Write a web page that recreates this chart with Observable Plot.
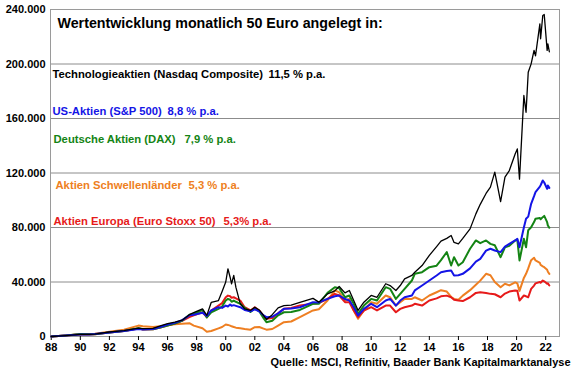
<!DOCTYPE html>
<html>
<head>
<meta charset="utf-8">
<script src="https://cdn.jsdelivr.net/npm/d3@7"></script>
<script src="https://cdn.jsdelivr.net/npm/@observablehq/plot@0.6"></script>
<style>
  html, body { margin: 0; padding: 0; background: #fff; }
  #chart { width: 580px; height: 375px; }
</style>
</head>
<body>
<div id="chart"></div>
<script>
const title = "Wertentwicklung monatlich 50 Euro angelegt in:";
const caption = "Quelle: MSCI, Refinitiv, Baader Bank Kapitalmarktanalyse";
const seriesNames = ["Technologieaktien (Nasdaq Composite)", "US-Aktien (S&P 500)", "Deutsche Aktien (DAX)", "Aktien Schwellenländer", "Aktien Europa (Euro Stoxx 50)"];
const seriesRates = ["11,5 % p.a.", "8,8 % p.a.", "7,9 % p.a.", "5,3 % p.a.", "5,3% p.a."];
const seriesColors = ["#000000", "#1414e6", "#148414", "#ee7f22", "#e61a1a"];
const yTicks = [0, 40000, 80000, 120000, 160000, 200000, 240000];
const xTicks = [1988,1990,1992,1994,1996,1998,2000,2002,2004,2006,2008,2010,2012,2014,2016,2018,2020,2022];

const dates = [1988.0,1989.0,1990.0,1990.6,1991.0,1992.0,1993.0,1994.0,1994.3,1995.0,1995.5,1996.0,1996.5,1997.0,1997.5,1997.8,1998.4,1998.7,1999.0,1999.5,1999.75,2000.0,2000.15,2000.3,2000.4,2000.55,2000.7,2001.0,2001.3,2001.7,2002.0,2002.3,2002.6,2002.8,2003.2,2003.6,2004.0,2004.5,2005.1,2006.0,2006.4,2007.0,2007.5,2007.8,2008.2,2008.5,2008.8,2009.1,2009.5,2010.0,2010.4,2011.0,2011.3,2011.7,2012.0,2012.3,2012.8,2013.0,2013.5,2014.0,2014.5,2014.8,2015.2,2015.5,2015.7,2016.0,2016.3,2016.8,2017.2,2017.5,2017.9,2018.2,2018.5,2018.9,2019.2,2019.5,2019.9,2020.05,2020.2,2020.5,2020.65,2020.8,2021.0,2021.2,2021.3,2021.6,2021.65,2021.8,2021.9,2022.1,2022.15,2022.25];

const nasdaq = [0,700,1600,1500,1700,3300,4300,6200,5800,6000,7800,9500,10500,12000,16000,17500,20300,15500,25000,26400,33000,40000,49700,43500,38700,44800,36000,24000,20300,19100,21500,19500,15400,12500,16000,21000,22700,23000,25000,28000,25200,31300,33500,36700,32000,33800,26400,19100,25200,30100,28800,38700,37400,33800,37400,42300,44800,47200,52100,59500,66000,70000,72000,74100,69000,68000,72000,79000,90000,97000,105000,109600,120600,99000,117000,121800,134000,137700,115500,176900,164600,194000,200100,210000,206000,229500,218500,235600,236300,210000,214800,209000];
const sp500 = [0,700,1500,1500,1800,3000,4000,5500,5200,5500,7000,8800,10000,12000,15500,16000,17500,15000,19100,21500,21000,22700,22000,23500,22500,23000,22500,21500,19500,18500,20000,18500,15500,14200,14500,17000,20300,20500,21500,25200,25000,27600,29500,30100,27500,26400,21500,15400,20300,24000,21500,26400,27600,22700,26400,28800,30100,33800,37400,41100,44800,47200,48000,48400,44800,45000,46000,50000,55000,57000,63000,64400,63100,61900,66000,68000,70500,71700,65500,80000,86400,88000,97400,103000,106000,110000,111000,114500,113000,108400,110800,109100];
const dax = [0,800,1800,1600,1700,2900,4000,6000,5300,5300,6500,8000,9500,11500,16000,16500,19500,14000,17800,20300,22000,26400,27600,27000,25500,26400,25500,24000,21000,18000,20500,18500,13500,10500,11500,15500,17800,18000,19500,24000,24000,32000,36200,35500,28800,30100,24000,16700,22700,27600,26400,36200,35000,27600,31300,35000,41100,46000,47200,50900,52000,56000,62000,52100,58200,52100,54500,64400,70500,68500,70500,68000,67000,58200,65500,66500,70500,71000,55800,71700,65500,78000,80200,84000,86400,87000,86000,87600,88500,83900,81500,79800];
const em = [0,700,1600,1800,2000,3500,5000,8000,7500,7000,7500,8500,9000,9300,9800,8000,6000,3500,4000,6000,7000,8800,8500,8000,7500,7000,6500,6000,5500,5000,6800,7000,5800,5000,5500,8000,10500,11000,14200,19100,20000,26400,33800,32500,26400,27600,19100,13000,19100,25200,24000,30100,28800,22700,25200,27600,27600,28800,26400,30100,32500,34000,33000,29000,27600,27000,30000,34000,38000,41000,46000,45000,40000,36200,38700,37500,39800,39000,33500,43000,46000,50000,56000,57800,55800,54000,52500,51500,50900,49000,47500,46000];
const stoxx = [0,700,1600,1500,1700,2900,4000,5800,5200,5300,6500,8000,9500,11500,14200,15500,17800,14200,19100,22700,24500,28800,30000,29500,28500,28800,28000,26400,21500,19100,21500,19100,15000,13000,13500,17000,20300,21000,22700,24000,24500,27600,31300,30100,25200,25200,19100,14200,19100,21500,19100,22700,22700,17800,20300,21500,22700,24000,22700,26400,28000,29500,30000,28800,27000,26400,26000,28800,32000,32500,32000,31300,31000,28800,31500,33000,33800,33500,26400,30100,29500,28800,35000,37400,39000,40000,39500,41100,40500,38700,39000,37400];

const seriesValues = [nasdaq, sp500, dax, em, stoxx];
const drawOrder = [3, 4, 2, 1, 0];

const rows = [];
for (const i of drawOrder) {
  dates.forEach((d, k) => rows.push({series: seriesNames[i], idx: i, date: d, value: seriesValues[i][k]}));
}

const fmtDE = d => d3.format(",")(d).replace(/,/g, ".");
const font = "'Liberation Sans', Arial, sans-serif";

const legendLayout = [
  {dx: 2, dy: 65, rdx: 218},
  {dx: 2, dy: 102, rdx: 117},
  {dx: 3, dy: 130, rdx: 134},
  {dx: 5, dy: 176, rdx: 138},
  {dx: 3, dy: 212, rdx: 173}
];

const marks = [
  Plot.gridY(yTicks, {stroke: "#8c8c8c", strokeOpacity: 1, strokeWidth: 1}),
  Plot.frame({stroke: "#9a9a9a", strokeWidth: 1}),
  Plot.axisY(yTicks, {tickSize: 4, tickPadding: 1, tickFormat: fmtDE, fontSize: 11, fontWeight: "bold", fill: "#000", stroke: null, label: null}),
  Plot.axisX(xTicks, {tickSize: 4, tickPadding: 3, tickFormat: d => String(d % 100).padStart(2, "0"), fontSize: 11, fontWeight: "bold", fill: "#000", label: null}),
  Plot.line(rows, {x: "date", y: "value", z: "series", stroke: d => seriesColors[d.idx], strokeWidth: d => d.idx === 0 ? 1.3 : 2, strokeLinejoin: "round"}),
  Plot.text([title], {frameAnchor: "top-left", dx: 7, dy: 14, text: d => d, fontSize: 14.25, fontWeight: "bold", textAnchor: "start", lineAnchor: "middle", fill: "#000"}),
  Plot.text([caption], {frameAnchor: "bottom-right", dx: 11, dy: 26, text: d => d, fontSize: 11, fontWeight: "bold", textAnchor: "end", lineAnchor: "middle", fill: "#000"})
];

seriesNames.forEach((name, i) => {
  const L = legendLayout[i];
  marks.push(Plot.text([name], {frameAnchor: "top-left", dx: L.dx, dy: L.dy, text: d => d, fontSize: 11.25, fontWeight: "bold", textAnchor: "start", lineAnchor: "middle", fill: seriesColors[i]}));
  marks.push(Plot.text([seriesRates[i]], {frameAnchor: "top-left", dx: L.rdx, dy: L.dy, text: d => d, fontSize: 11.25, fontWeight: "bold", textAnchor: "start", lineAnchor: "middle", fill: seriesColors[i]}));
});

const chart = Plot.plot({
  width: 580,
  height: 375,
  marginLeft: 50,
  marginRight: 21,
  marginTop: 9,
  marginBottom: 39,
  style: {fontFamily: font, background: "#fff", color: "#000"},
  x: {type: "linear", domain: [1987.95, 2022.95], label: null},
  y: {domain: [0, 240000], label: null},
  marks
});
document.getElementById("chart").appendChild(chart);
</script>
</body>
</html>
